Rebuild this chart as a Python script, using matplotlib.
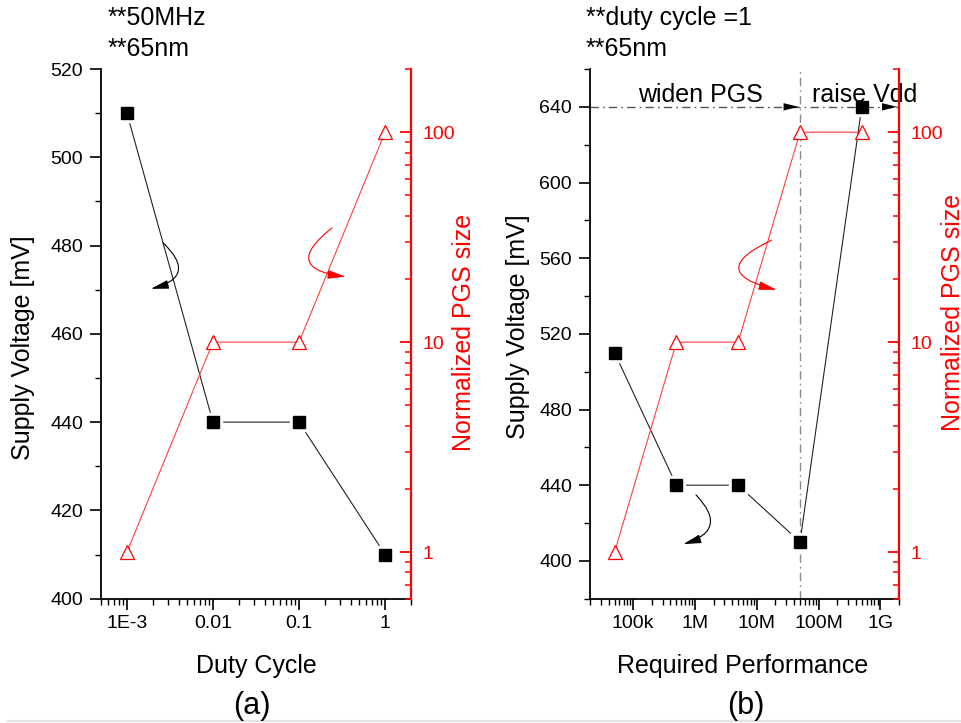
import numpy as np
import matplotlib
matplotlib.use("Agg")
import matplotlib.pyplot as plt
from matplotlib.lines import Line2D
from matplotlib.ticker import FixedLocator, FixedFormatter, MultipleLocator, LogLocator, NullFormatter

plt.rcParams["font.family"] = ["Liberation Sans", "DejaVu Sans"]

# (a) supply voltage and PGS size vs duty cycle, 50 MHz / 65 nm
duty = [1e-3, 1e-2, 1e-1, 1.0]
vdd_duty = [510, 440, 440, 410]
pgs_duty = [1, 10, 10, 100]
duty_ticks = [1e-3, 1e-2, 1e-1, 1.0]
duty_labels = ["1E-3", "0.01", "0.1", "1"]

# (b) same vs required performance, duty cycle = 1 / 65 nm
perf = [5e4, 5e5, 5e6, 5e7, 5e8]
vdd_perf = [510, 440, 440, 410, 640]
pgs_perf = [1, 10, 10, 100, 100]
perf_ticks = [1e5, 1e6, 1e7, 1e8, 1e9]
perf_labels = ["100k", "1M", "10M", "100M", "1G"]

pgs_ticks = [1, 10, 100]
pgs_labels = ["1", "10", "100"]

RED = "#ff0000"
W, H = 961, 723


def fx(x):
    return x / W


def fy(y):
    return 1 - y / H


def style(ax, tw, xt, xl, pgs_pad=8.5):
    ax.set_xscale("log")
    for s in ("top", "right"):
        ax.spines[s].set_visible(False)
    for s in ("left", "bottom"):
        ax.spines[s].set_linewidth(1.3)
    ax.xaxis.set_major_locator(FixedLocator(xt))
    ax.xaxis.set_major_formatter(FixedFormatter(xl))
    ax.xaxis.set_minor_locator(LogLocator(base=10, subs=np.arange(2, 10)))
    ax.xaxis.set_minor_formatter(NullFormatter())
    ax.tick_params(which="major", direction="out", length=8, width=1.2, labelsize=14)
    ax.tick_params(which="minor", direction="out", length=4, width=1.0)
    ax.tick_params(axis="x", pad=4)
    ax.tick_params(axis="y", pad=5)

    tw.set_yscale("log")
    tw.set_ylim(0.6, 200)
    for s in ("left", "top", "bottom"):
        tw.spines[s].set_visible(False)
    tw.spines["right"].set_color(RED)
    tw.spines["right"].set_linewidth(1.6)
    tw.yaxis.set_major_locator(FixedLocator(pgs_ticks))
    tw.yaxis.set_major_formatter(FixedFormatter(pgs_labels))
    tw.yaxis.set_minor_locator(LogLocator(base=10, subs=np.arange(2, 10)))
    tw.yaxis.set_minor_formatter(NullFormatter())
    tw.tick_params(axis="y", which="major", direction="in", length=8, width=1.3,
                   colors=RED, labelsize=14, pad=pgs_pad)
    tw.tick_params(axis="y", which="minor", direction="in", length=4, width=1.1, colors=RED)


def draw(ax, tw, x, vdd, pgs):
    ax.plot(x, vdd, color="#222222", lw=0.8, zorder=2)
    # white halo leaves a small gap between the line and each square
    ax.plot(x, vdd, ls="none", marker="s", ms=13, mfc="white", mec="white", zorder=2.5)
    ax.plot(x, vdd, ls="none", marker="s", ms=8, color="black", zorder=3)
    tw.plot(x, pgs, color="#ff4040", lw=0.8, zorder=2)
    tw.plot(x, pgs, ls="none", marker="^", ms=10.5, mfc="white", mec=RED, mew=0.9, zorder=3)


def curl(ax, start, end, rad, color):
    ax.annotate("", xy=end, xytext=start, xycoords="axes fraction", textcoords="axes fraction",
                arrowprops=dict(arrowstyle="-|>,head_length=0.9,head_width=0.22", color=color,
                                lw=0.8, shrinkA=0, shrinkB=0, mutation_scale=12,
                                connectionstyle=f"arc3,rad={rad}"), zorder=4)


fig = plt.figure(figsize=(9.61, 7.23), dpi=100)
ax_a = fig.add_axes([fx(101), fy(598.7), 310 / W, 529.7 / H])
ax_b = fig.add_axes([fx(590), fy(598.7), 309 / W, 529.7 / H])
tw_a = ax_a.twinx()
tw_b = ax_b.twinx()

# ---- (a) duty cycle ----
style(ax_a, tw_a, duty_ticks, duty_labels)
ax_a.set_xlim(5e-4, 2)
ax_a.set_ylim(400, 520)
ax_a.yaxis.set_major_locator(MultipleLocator(20))
ax_a.yaxis.set_minor_locator(MultipleLocator(10))
draw(ax_a, tw_a, duty, vdd_duty, pgs_duty)
curl(ax_a, (0.200, 0.672), (0.161, 0.585), -0.9, "black")
curl(tw_a, (0.745, 0.700), (0.789, 0.608), 1.2, RED)

# ---- (b) required performance ----
style(ax_b, tw_b, perf_ticks, perf_labels)
ax_b.set_xlim(2e4, 2e9)
ax_b.set_ylim(380, 660)
ax_b.yaxis.set_major_locator(FixedLocator(np.arange(400, 641, 40)))
ax_b.yaxis.set_minor_locator(FixedLocator(np.arange(380, 661, 40)))
draw(ax_b, tw_b, perf, vdd_perf, pgs_perf)
curl(tw_b, (0.588, 0.677), (0.604, 0.583), 1.4, RED)
curl(ax_b, (0.343, 0.196), (0.302, 0.103), -0.81, "black")

# regime boundary: widen PGS until the max PGS point, then raise Vdd
split = perf[3]
top_v = vdd_perf[-1]
x0, x1 = ax_b.get_xlim()
dashdot = (0, (6, 3, 1.2, 3))
ax_b.axvline(split, color="#8a8a8a", lw=1.0, ls=dashdot, zorder=1)
ax_b.hlines(top_v, x0, x1, color="#555555", lw=1.0, ls=dashdot, zorder=2.6)
for tip in (split * 0.95, x1 * 0.93):
    ax_b.annotate("", xy=(tip, top_v), xytext=(tip / 1.6, top_v),
                  arrowprops=dict(arrowstyle="-|>,head_length=0.9,head_width=0.22", color="black",
                                  lw=0.01, shrinkA=0, shrinkB=0, mutation_scale=12), zorder=2.7)
ax_b.text(0.356, 0.938, "widen PGS", transform=ax_b.transAxes, ha="center", va="baseline",
          fontsize=18, zorder=2.8)
ax_b.text(0.7175, 0.938, "raise Vdd", transform=ax_b.transAxes, ha="left", va="baseline",
          fontsize=18, zorder=2.8, clip_on=False)

# ---- labels ----
fig.text(fx(108), fy(25), "**50MHz", fontsize=18, va="baseline")
fig.text(fx(108), fy(56), "**65nm", fontsize=18, va="baseline")
fig.text(fx(586), fy(25), "**duty cycle =1", fontsize=18, va="baseline")
fig.text(fx(586), fy(56), "**65nm", fontsize=18, va="baseline")

fig.text(fx(256), fy(673), "Duty Cycle", fontsize=18, ha="center", va="baseline")
fig.text(fx(743), fy(673), "Required Performance", fontsize=18, ha="center", va="baseline")
fig.text(fx(252), fy(706), "(a)", fontsize=22, ha="center", va="center")
fig.text(fx(746), fy(706), "(b)", fontsize=22, ha="center", va="center")

for x, y in ((30, 348), (525, 326.5)):
    fig.text(fx(x), fy(y), "Supply Voltage [mV]", fontsize=18, rotation=90,
             rotation_mode="anchor", ha="center", va="baseline")
for x, y in ((471, 332.5), (960, 312.5)):
    fig.text(fx(x), fy(y), "Normalized PGS size", fontsize=18, color=RED, rotation=90,
             rotation_mode="anchor", ha="center", va="baseline")

fig.add_artist(Line2D([fx(8), 1], [fy(721), fy(721)], color="#e4e4e4", lw=1.5))

fig.savefig("out.png", dpi=100)
